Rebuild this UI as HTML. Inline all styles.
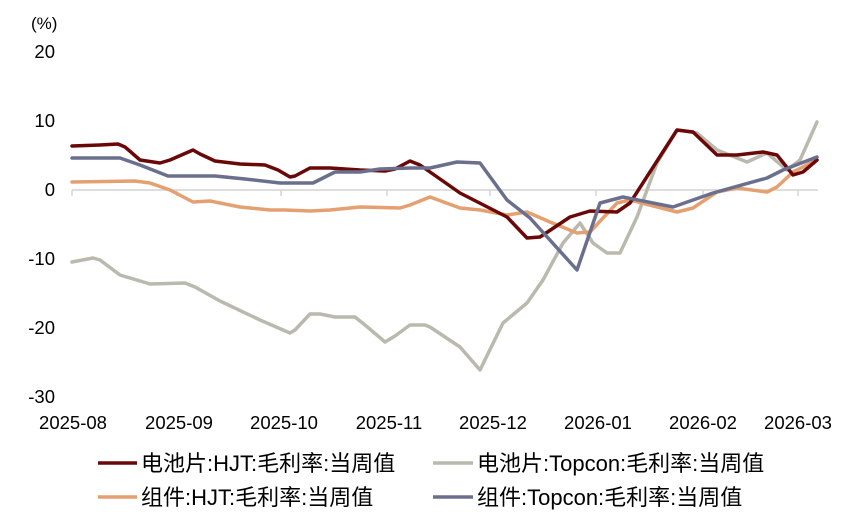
<!DOCTYPE html>
<html><head><meta charset="utf-8"><style>
body{margin:0;background:#fff}
svg text{font-family:"Liberation Sans","Noto Sans CJK SC",sans-serif;fill:#000}
</style></head><body>
<svg width="853" height="520" viewBox="0 0 853 520" xmlns="http://www.w3.org/2000/svg">
<text x="31" y="29" font-size="17">(%)</text>
<g font-size="18.5" text-anchor="end">
<text x="55" y="58">20</text>
<text x="55" y="127">10</text>
<text x="55" y="196">0</text>
<text x="55" y="265">-10</text>
<text x="55" y="334">-20</text>
<text x="55" y="403">-30</text>
</g>
<line x1="72" y1="190" x2="818" y2="190" stroke="#d4d4d4" stroke-width="1.5"/>
<g stroke="#d4d4d4" stroke-width="1.5">
<line x1="72" y1="190" x2="72" y2="196"/><line x1="177" y1="190" x2="177" y2="196"/><line x1="281" y1="190" x2="281" y2="196"/><line x1="387" y1="190" x2="387" y2="196"/><line x1="490" y1="190" x2="490" y2="196"/><line x1="596" y1="190" x2="596" y2="196"/><line x1="703" y1="190" x2="703" y2="196"/><line x1="798" y1="190" x2="798" y2="196"/>
</g>
<g font-size="18.5" text-anchor="middle">
<text x="73" y="429">2025-08</text><text x="179" y="429">2025-09</text><text x="284" y="429">2025-10</text><text x="389" y="429">2025-11</text><text x="493" y="429">2025-12</text><text x="598" y="429">2026-01</text><text x="703" y="429">2026-02</text><text x="798" y="429">2026-03</text>
</g>
<g fill="none" stroke-width="3.5" stroke-linejoin="round" stroke-linecap="round">
<polyline stroke="#b9b9ae" points="72,262 93,258 100,260 120,275 150,284 185,283 195,287 220,301 260,320 290,333 295,330 310,314 320,314 335,317 355,317 365,325 385,342 395,336 410,325 425,325 430,327 460,347 480,370 503,323 527,303 543,280 563,243 580,223 593,243 607,253 620,253 637,217 657,163 677,130 697,133 717,150 747,162 767,153 787,170 800,160 817,122"/>
<polyline stroke="#e4a070" points="72,182 135,181 150,183 170,190 193,202 210,201 240,207 270,210 285,210 310,211 330,210 360,207 400,208 410,205 425,199 430,197 460,208 480,210 507,215 527,212 550,222 577,233 590,232 617,203 630,200 677,212 693,208 717,192 737,188 767,192 777,187 793,172 817,160"/>
<polyline stroke="#6a0808" points="72,146 100,145 118,144 125,147 140,160 160,163 170,160 193,150 200,154 215,161 240,164 265,165 278,170 290,177 295,176 310,168 330,168 360,170 385,171 395,169 410,161 420,165 430,172 460,193 507,217 527,238 540,237 570,217 590,211 617,212 630,203 677,130 693,132 717,155 737,155 763,152 777,155 793,175 803,172 817,160"/>
<polyline stroke="#6a6f8e" points="72,158 120,158 140,165 168,176 215,176 245,179 280,183 313,183 335,172 360,172 380,169 410,168 430,168 457,162 480,163 507,200 530,218 577,270 600,203 623,197 673,207 713,193 767,178 783,170 817,157"/>
</g>
<g stroke-width="3.5">
<line x1="98" y1="463" x2="137" y2="463" stroke="#6a0808"/>
<line x1="433" y1="463" x2="473" y2="463" stroke="#b9b9ae"/>
<line x1="98" y1="497" x2="137" y2="497" stroke="#e4a070"/>
<line x1="433" y1="497" x2="473" y2="497" stroke="#6a6f8e"/>
</g>
<g font-size="22">
<text x="141" y="471">电池片:HJT:毛利率:当周值</text>
<text x="477" y="471">电池片:Topcon:毛利率:当周值</text>
<text x="141" y="505">组件:HJT:毛利率:当周值</text>
<text x="477" y="505">组件:Topcon:毛利率:当周值</text>
</g>
</svg>
</body></html>
